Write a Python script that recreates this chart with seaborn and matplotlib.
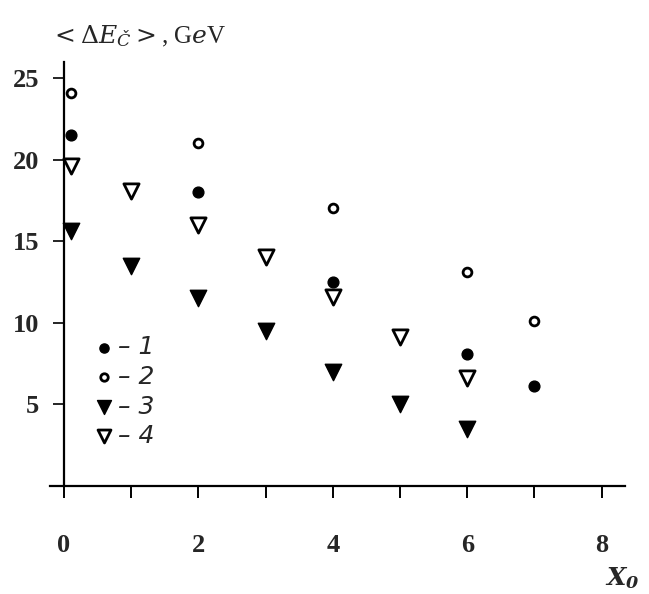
import numpy as np
import pandas as pd
import matplotlib
matplotlib.use("Agg")
import matplotlib.pyplot as plt
import seaborn as sns

# data
x_s1 = [0.1, 2, 4, 6, 7]
y_s1 = [21.5, 18.0, 12.5, 8.1, 6.1]
x_s2 = [0.1, 2, 4, 6, 7]
y_s2 = [24.1, 21.0, 17.0, 13.1, 10.1]
x_s3 = [0.1, 1, 2, 3, 4, 5, 6]
y_s3 = [15.6, 13.5, 11.5, 9.5, 7.0, 5.0, 3.5]
x_s4 = [0.1, 1, 2, 3, 4, 5, 6]
y_s4 = [19.6, 18.1, 16.0, 14.0, 11.6, 9.1, 6.6]
series_labels = ["\u2013 1", "\u2013 2", "\u2013 3", "\u2013 4"]
x_ticks_major = [0, 2, 4, 6, 8]
x_ticks_minor = [1, 3, 5, 7]
y_ticks = [5, 10, 15, 20, 25]

sns.set_style("white")
plt.rcParams["font.family"] = ["Liberation Serif", "DejaVu Serif"]
plt.rcParams["mathtext.fontset"] = "dejavuserif"

fig = plt.figure(figsize=(6.49, 5.94), dpi=100)
ax = fig.add_axes([0.0779, 0.1687, 0.8905, 0.7328])

specs = [
    (x_s1, y_s1, "o", 60, "black", "black", 1.0),
    (x_s2, y_s2, "o", 40, "white", "black", 2.0),
    (x_s3, y_s3, "v", 140, "black", "black", 1.0),
    (x_s4, y_s4, "v", 120, "white", "black", 2.0),
]
for (xs, ys, mk, s, fc, ec, lw), lab in zip(specs, series_labels):
    df = pd.DataFrame({"x": xs, "y": ys})
    sns.scatterplot(data=df, x="x", y="y", marker=mk, s=s, facecolor=fc,
                    edgecolor=ec, linewidth=lw, ax=ax, label=lab, zorder=3)

ax.set_xlim(-0.2, 8.4)
ax.set_ylim(-0.5, 26.2)
for sp in ["top", "right"]:
    ax.spines[sp].set_visible(False)
ax.spines["left"].set_position(("data", 0))
ax.spines["bottom"].set_position(("data", 0))
ax.spines["left"].set_bounds(0, 26.0)
ax.spines["bottom"].set_bounds(-0.21, 8.35)
for sp in ["left", "bottom"]:
    ax.spines[sp].set_linewidth(1.6)
    ax.spines[sp].set_color("black")

ax.set_xticks(x_ticks_major)
ax.set_xticks(x_ticks_minor, minor=True)
ax.set_yticks(y_ticks)
ax.set_xticklabels([str(v) for v in x_ticks_major])
ax.set_yticklabels([str(v) for v in y_ticks])
ax.tick_params(axis="x", which="both", direction="out", length=8.6, width=1.4,
               color="black", bottom=True)
ax.tick_params(axis="x", which="major", pad=26, labelsize=19)
ax.tick_params(axis="y", which="major", direction="out", length=8, width=1.2,
               color="black", pad=10, labelsize=19, left=True)
for t in ax.get_xticklabels() + ax.get_yticklabels():
    t.set_fontweight("bold")
ax.set_xlabel("")
ax.set_ylabel("")
ax.grid(False)

leg = ax.legend(loc="upper left", bbox_to_anchor=(85 / 649, 1 - 323 / 594),
                bbox_transform=fig.transFigure, frameon=False, borderpad=0,
                handlelength=0.5, handletextpad=0.3, labelspacing=0.22,
                prop={"family": "DejaVu Sans", "style": "italic", "size": 18},
                markerscale=0.85)

fig.text(50 / 649, 1 - 36 / 594, r"$<\Delta E_{Č}>$, G$e$V",
         ha="left", va="center", fontsize=18)
fig.text(622 / 649, 1 - 578 / 594, r"$\mathbfit{X}_{\mathbfit{0}}$",
         ha="center", va="center", fontsize=18)

fig.savefig("out.png", dpi=100)
